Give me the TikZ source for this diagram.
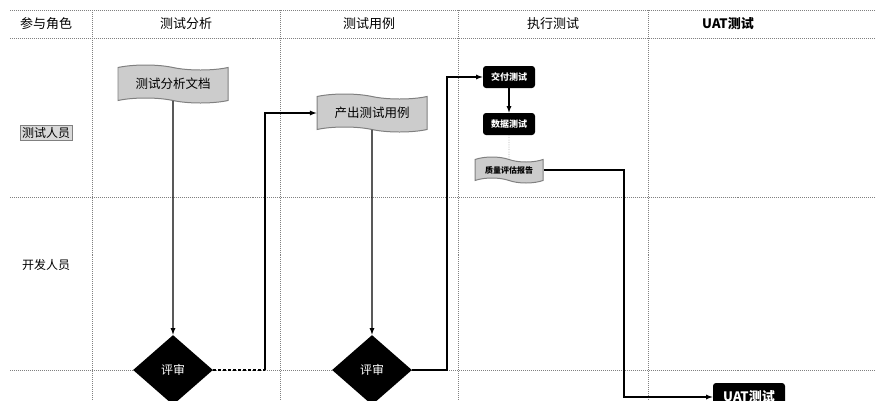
\documentclass[tikz,border=0pt]{standalone}
\usepackage{fontspec}
\setmainfont{Noto Sans CJK SC}
\usepackage{tikz}
\usetikzlibrary{arrows, shapes.symbols, shapes.geometric, backgrounds}

\begin{document}
\begin{tikzpicture}[
		x=1pt, y=-1pt,
		line width=0.25mm,
		grid line/.style={densely dotted, gray, line width=0.35mm},
		head/.style={font=\fontsize{13}{15}\selectfont},
		doc/.style={tape, draw=gray, fill=gray!40, line width=0.35mm, tape bend top=out and in, tape bend bottom=out and in, tape bend height=5pt, font=\fontsize{12.5}{15}\selectfont, inner sep=2pt},
		review/.style={diamond, fill=black, text=white, minimum width=80pt, minimum height=70pt, inner sep=0pt, font=\fontsize{12}{14}\selectfont},
		task/.style={rounded corners=3pt, fill=black, text=white, minimum width=52pt, minimum height=22pt, font=\bfseries\fontsize{9}{11}\selectfont},
		flow/.style={-latex, line width=0.45mm}
		]
	\useasboundingbox (0,0) rectangle (880,400);
	
	% Grid
	\foreach \y in {10, 38, 197, 370}{
		\draw[grid line] (10,\y) -- (876,\y);
	}
	\foreach \x in {92, 280, 458, 648}{
		\draw[grid line] (\x,10) -- (\x,400);
	}
	
	% Headers
	\node[head] (hrole) at (46,24) {参与角色};
	\node[head] (hana) at (186,24) {测试分析};
	\node[head] (hcase) at (369,24) {测试用例};
	\node[head] (hrun) at (553,24) {执行测试};
	\node[head, font=\bfseries\fontsize{13}{15}\selectfont] (huat) at (728,24) {UAT测试};
	
	% Roles
	\node[draw=gray, fill=gray!30, line width=0.35mm, inner sep=2pt, font=\fontsize{12}{14}\selectfont] (tester) at (46,133) {测试人员};
	\node[font=\fontsize{12}{14}\selectfont] (dev) at (46,265) {开发人员};
	
	% Nodes
	\node[doc, minimum width=110pt, minimum height=38pt] (anadoc) at (173,84) {测试分析文档};
	\node[doc, minimum width=110pt, minimum height=38pt] (casedoc) at (372,113) {产出测试用例};
	\node[review] (rev1) at (173,370) {评审};
	\node[review] (rev2) at (372,370) {评审};
	\node[task] (deliver) at (509,77) {交付测试};
	\node[task] (data) at (509,124) {数据测试};
	\node[doc, minimum width=68pt, minimum height=26pt, font=\bfseries\fontsize{8}{10}\selectfont] (report) at (509,170) {质量评估报告};
	\node[task, minimum width=72pt, minimum height=28pt, font=\bfseries\fontsize{13}{15}\selectfont] (uat) at (749,397) {UAT测试};
	
	% Connectors
	\coordinate (bend1) at (265,370);
	\draw[line width=0.45mm, densely dashed] (rev1.east) -- (bend1);
	\draw[flow] (bend1) |- (casedoc.west);
	\draw[flow] (anadoc) -- (rev1);
	\draw[flow] (casedoc) -- (rev2);
	\draw[flow] (rev2.east) -| (447,77) -- (deliver.west);
	\draw[flow] (deliver) -- (data);
	\draw[densely dotted, gray!60] (data) -- (report);
	\draw[flow] (report.east) -| (624,397) -- (uat.west);
\end{tikzpicture}
\end{document}
